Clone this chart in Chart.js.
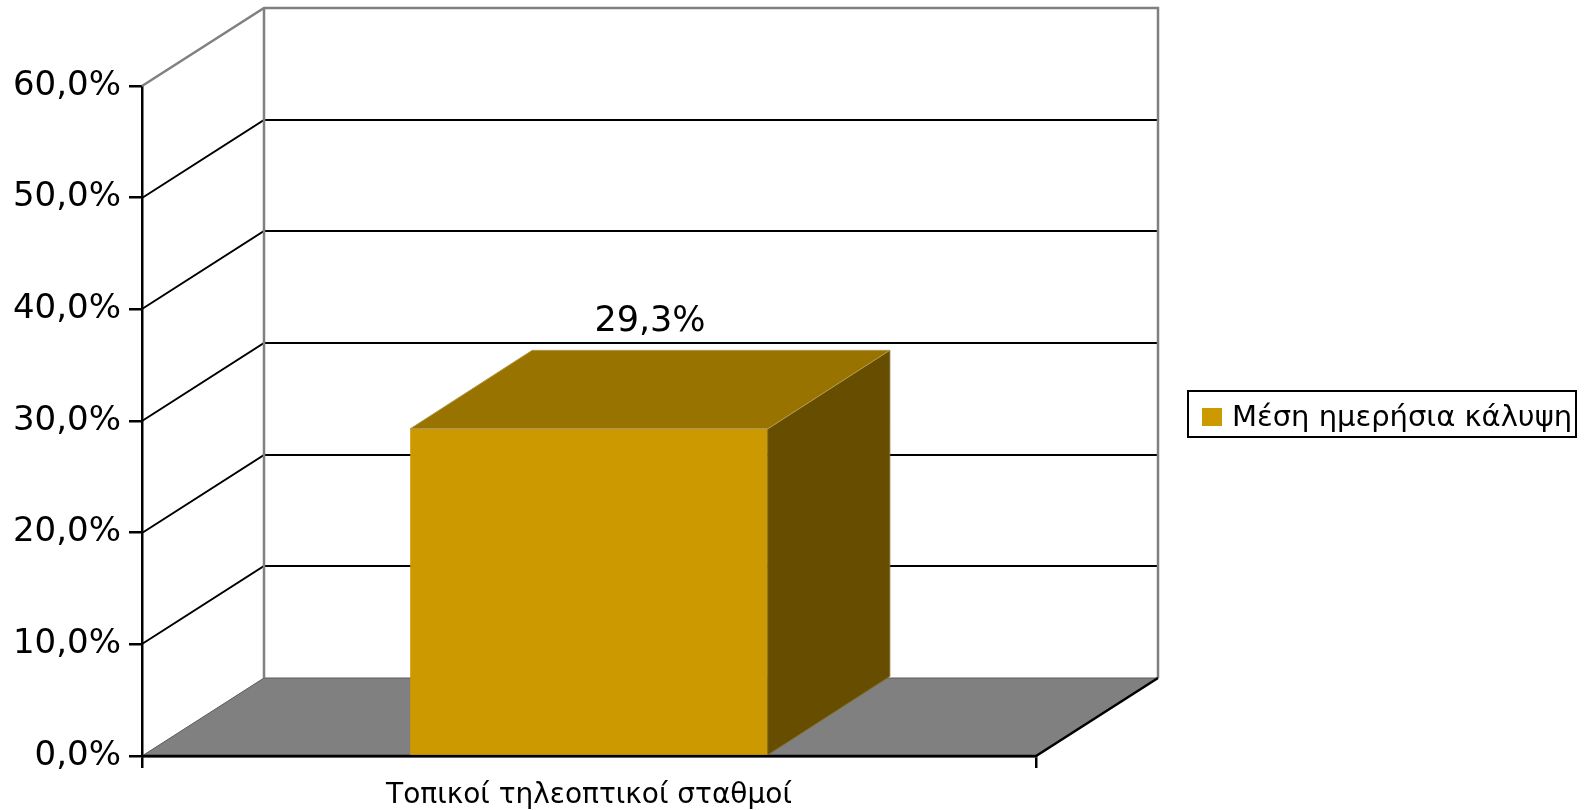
<!DOCTYPE html>
<html>
<head>
<meta charset="utf-8">
<script src="https://cdn.jsdelivr.net/npm/chart.js@4.4.1/dist/chart.umd.min.js"></script>
<style>
    html, body { margin: 0; padding: 0; background: #fff; }
    #wrap { width: 1584px; height: 810px; }
</style>
</head>
<body>
<div id="wrap"><canvas id="chart" width="1584" height="810"></canvas></div>
<script>
// Data
const categories = ['Τοπικοί τηλεοπτικοί σταθμοί'];
const seriesName = 'Μέση ημερήσια κάλυψη';
const coverage = [29.3];
const yTicks = [0, 10, 20, 30, 40, 50, 60];

const fmtPct = v => v.toFixed(1).replace('.', ',') + '%';

// 3D look: depth offset of the walls and bar (px)
const DEPTH_X = 122;
const DEPTH_Y = -78.5;
const FRONT = '#CC9900';
const TOP = '#997300';
const SIDE = '#664D00';

function line(ctx, pts, color, width) {
    ctx.save();
    ctx.strokeStyle = color;
    ctx.lineWidth = width;
    ctx.lineJoin = 'miter';
    ctx.beginPath();
    ctx.moveTo(pts[0][0], pts[0][1]);
    for (let i = 1; i < pts.length; i++) ctx.lineTo(pts[i][0], pts[i][1]);
    ctx.stroke();
    ctx.restore();
}

function poly(ctx, pts, fill, stroke) {
    ctx.save();
    ctx.fillStyle = fill;
    ctx.beginPath();
    ctx.moveTo(pts[0][0], pts[0][1]);
    for (let i = 1; i < pts.length; i++) ctx.lineTo(pts[i][0], pts[i][1]);
    ctx.closePath();
    ctx.fill();
    if (stroke) {
        ctx.strokeStyle = stroke;
        ctx.lineWidth = 1;
        ctx.stroke();
    }
    ctx.restore();
}

const threeD = {
    id: 'threeD',
    beforeDatasetsDraw(chart) {
        const { ctx, chartArea: { left, right, top, bottom }, scales: { y } } = chart;
        const dx = DEPTH_X, dy = DEPTH_Y;
        const backB = Math.round(bottom + dy), backT = Math.round(top + dy);

        // floor
        poly(ctx, [[left, bottom], [left + dx, backB], [right + dx, backB], [right, bottom]], '#808080', '#5a5a5a');

        // gridlines on side wall + back wall
        yTicks.forEach(v => {
            if (v === yTicks[0] || v === yTicks[yTicks.length - 1]) return;
            const py = Math.round(y.getPixelForValue(v));
            const pb = Math.round(py + dy);
            line(ctx, [[left, py], [left + dx, pb], [right + dx, pb]], '#000', 2);
        });

        // wall borders
        line(ctx, [[left, top], [left + dx, backT], [right + dx, backT], [right + dx, backB]], '#808080', 2.5);
        line(ctx, [[left + dx, backT], [left + dx, backB]], '#808080', 2.5);

        // front floor edge
        line(ctx, [[left, bottom], [right, bottom], [right + dx, backB]], '#000', 2.5);
    },
    afterDatasetsDraw(chart) {
        const { ctx } = chart;
        const dx = DEPTH_X, dy = DEPTH_Y;
        chart.data.datasets.forEach((ds, di) => {
            chart.getDatasetMeta(di).data.forEach((bar, i) => {
                const l = bar.x - bar.width / 2, r = bar.x + bar.width / 2;
                const t = bar.y, b = bar.base;
                poly(ctx, [[r, t], [r + dx, t + dy], [r + dx, b + dy], [r, b]], SIDE, '#7d6a20');
                poly(ctx, [[l, t], [l + dx, t + dy], [r + dx, t + dy], [r, t]], TOP, '#b39a4d');

                ctx.save();
                ctx.fillStyle = '#000';
                ctx.font = '35px "DejaVu Sans", Verdana, sans-serif';
                ctx.textAlign = 'center';
                ctx.textBaseline = 'alphabetic';
                ctx.fillText(fmtPct(ds.data[i]), bar.x + dx / 2, t + dy - 19);
                ctx.restore();
            });
        });
    },
    afterDraw(chart) {
        // legend box
        const { ctx } = chart;
        const ds = chart.data.datasets[0];
        ctx.save();
        ctx.strokeStyle = '#000';
        ctx.lineWidth = 2;
        ctx.strokeRect(1188, 391, 388, 46);
        ctx.fillStyle = ds.backgroundColor;
        ctx.fillRect(1202, 408, 20, 18);
        ctx.fillStyle = '#000';
        ctx.font = '29px "DejaVu Sans", Verdana, sans-serif';
        ctx.textAlign = 'left';
        ctx.textBaseline = 'alphabetic';
        ctx.fillText(ds.label, 1232, 426);
        ctx.restore();
    }
};

Chart.defaults.font.family = '"DejaVu Sans", Verdana, sans-serif';
Chart.defaults.color = '#000';

new Chart(document.getElementById('chart'), {
    type: 'bar',
    data: {
        labels: categories,
        datasets: [{
            label: seriesName,
            data: coverage,
            backgroundColor: FRONT,
            borderWidth: 0,
            categoryPercentage: 0.4,
            barPercentage: 1.0
        }]
    },
    options: {
        responsive: false,
        animation: false,
        layout: { padding: { left: 0, top: 86, right: 548, bottom: 0 } },
        plugins: {
            legend: { display: false },
            tooltip: { enabled: false }
        },
        scales: {
            x: {
                offset: true,
                grid: { offset: true, drawOnChartArea: false, tickLength: 12, color: '#000', lineWidth: 2.5 },
                border: { color: '#000', width: 2.5 },
                ticks: { font: { size: 28 }, padding: 11, color: '#000' },
                afterFit: s => { s.height = 54; }
            },
            y: {
                min: yTicks[0],
                max: yTicks[yTicks.length - 1],
                afterBuildTicks: s => { s.ticks = yTicks.map(v => ({ value: v })); },
                grid: { drawOnChartArea: false, tickLength: 13, color: '#000', lineWidth: 2.5 },
                border: { color: '#000', width: 2.5 },
                ticks: { font: { size: 34 }, padding: 8, color: '#000', callback: v => fmtPct(v) },
                afterFit: s => { s.width = 142; }
            }
        }
    },
    plugins: [threeD]
});
</script>
</body>
</html>
